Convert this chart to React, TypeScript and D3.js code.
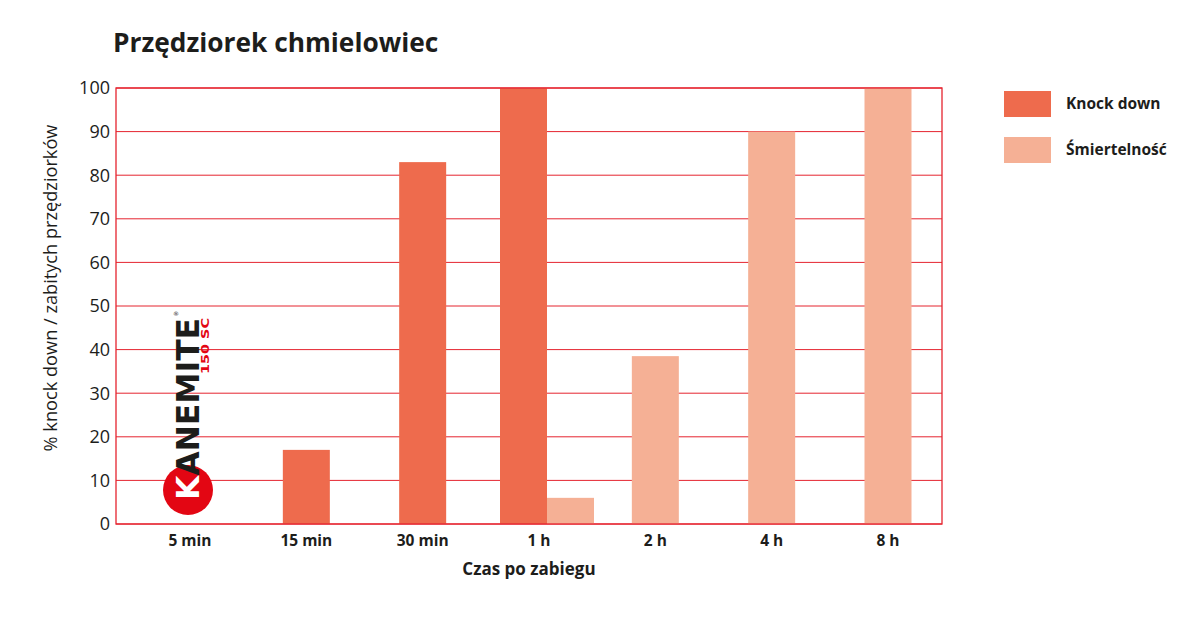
import React from "react";
import * as d3 from "d3";

const categories = ["5 min", "15 min", "30 min", "1 h", "2 h", "4 h", "8 h"];
const knockDown: (number | null)[] = [null, 17, 83, 100, null, null, null];
const mortality: (number | null)[] = [null, null, null, 6, 38.5, 90, 100];
const yTicks = [0, 10, 20, 30, 40, 50, 60, 70, 80, 90, 100];
const seriesNames = ["Knock down", "Śmiertelność"];
const seriesColors = ["#ee6b4d", "#f5b095"];

const W = 1200, H = 625;
const plot = { left: 116, right: 942, top: 88, bottom: 524 };
const FONT = "'Open Sans', 'Noto Sans', sans-serif";
const GRID = "#e5242f";

export default function App() {
  const x = d3.scalePoint<string>().domain(categories).range([190, 888]);
  const y = d3.scaleLinear().domain([0, 100]).range([plot.bottom, plot.top]);
  const bw = 47;

  const bars: React.ReactNode[] = [];
  categories.forEach((c, i) => {
    const vals = [knockDown[i], mortality[i]];
    const present = vals.map((v, s) => ({ v, s })).filter((d) => d.v != null);
    const cx = x(c)!;
    const start = cx - (present.length * bw) / 2 + (present.length > 1 ? 8 : 0);
    present.forEach((d, k) => {
      bars.push(
        <rect
          key={`${c}-${d.s}`}
          x={start + k * bw}
          y={y(d.v as number)}
          width={bw}
          height={y(0) - y(d.v as number)}
          fill={seriesColors[d.s]}
        />
      );
    });
  });

  return (
    <svg width={W} height={H} style={{ display: "block", position: "absolute", left: 0, top: 0 }}>
      <rect width={W} height={H} fill="#fff" />
      <text x={113} y={52} fontFamily={FONT} fontWeight={700} fontSize={26.3} fill="#1d1d1b">
        Przędziorek chmielowiec
      </text>
      {yTicks.map((t) => (
        <g key={t}>
          <line x1={plot.left} x2={plot.right} y1={y(t)} y2={y(t)} stroke={GRID} strokeWidth={1} />
          <text x={110} y={y(t)} dy="0.35em" textAnchor="end" fontFamily={FONT} fontSize={18} fill="#1d1d1b">
            {t}
          </text>
        </g>
      ))}
      <g>
        <circle cx={188} cy={490} r={25} fill="#e30613" />
        <text
          transform="translate(199,500) rotate(-90)"
          fontFamily="'DejaVu Sans', sans-serif"
          fontWeight={700}
          fontSize={32}
          textLength={182}
          lengthAdjust="spacingAndGlyphs"
          fill="#1d1d1b"
        >
          <tspan fill="#fff">K</tspan>ANEMITE
        </text>
        <text
          transform="translate(209,374) rotate(-90)"
          fontFamily="'DejaVu Sans', sans-serif"
          fontWeight={700}
          fontSize={11}
          textLength={56}
          lengthAdjust="spacingAndGlyphs"
          fill="#e30613"
        >
          150 SC
        </text>
        <text x={173} y={316} fontFamily="'DejaVu Sans', sans-serif" fontSize={6} fill="#1d1d1b">®</text>
      </g>
      {bars}
      <rect
        x={plot.left}
        y={plot.top}
        width={plot.right - plot.left}
        height={plot.bottom - plot.top}
        fill="none"
        stroke={GRID}
        strokeWidth={1.3}
      />
      {categories.map((c) => (
        <text key={c} x={x(c)} y={546} textAnchor="middle" fontFamily={FONT} fontWeight={700} fontSize={15.5} fill="#1d1d1b">
          {c}
        </text>
      ))}
      <text x={529} y={575} textAnchor="middle" fontFamily={FONT} fontWeight={700} fontSize={17} fill="#1d1d1b">
        Czas po zabiegu
      </text>
      <text
        transform={`translate(57,288) rotate(-90)`}
        textAnchor="middle"
        fontFamily={FONT}
        fontSize={18.2}
        fill="#1d1d1b"
      >
        % knock down / zabitych przędziorków
      </text>
      {seriesNames.map((n, i) => (
        <g key={n} transform={`translate(1004,${91 + i * 46})`}>
          <rect width={47} height={26} fill={seriesColors[i]} />
          <text x={62} y={13} dy="0.35em" fontFamily={FONT} fontWeight={700} fontSize={15.5} fill="#1d1d1b">
            {n}
          </text>
        </g>
      ))}
    </svg>
  );
}
